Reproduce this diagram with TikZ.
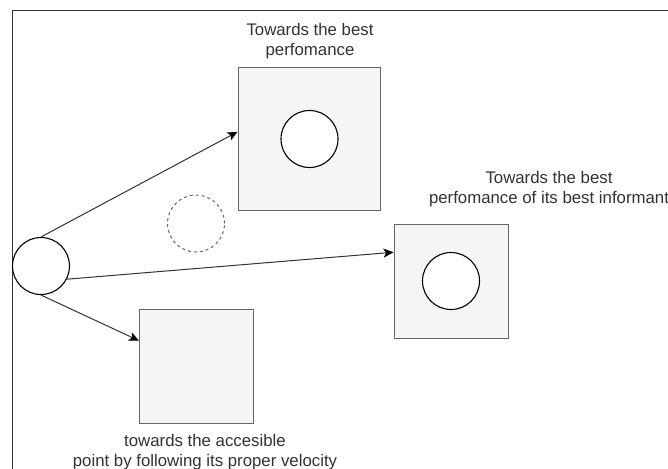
\documentclass[tikz,border=0pt]{standalone}
\usepackage{fontspec}
\setmainfont{Liberation Sans}
\usetikzlibrary{arrows.meta,calc}
\definecolor{txtgray}{HTML}{333333}
\definecolor{boxline}{HTML}{666666}
\definecolor{boxfill}{HTML}{F5F5F5}
\begin{document}
\begin{tikzpicture}[x=1pt,y=-1pt,
  frameline/.style={draw=txtgray,line width=1pt},
  cellbox/.style={draw=boxline,fill=boxfill,line width=1pt,inner sep=0pt,minimum size=#1},
  particle/.style={circle,draw=black,line width=1.1pt,fill=white,inner sep=0pt,minimum size=57pt},
  ghost/.style={circle,draw=boxline,line width=1pt,dash pattern=on 3pt off 3pt,inner sep=0pt,minimum size=57pt},
  move/.style={draw=txtgray,line width=1pt,-{Stealth[length=10pt,width=9pt,inset=2.5pt,color=black]}},
  caption/.style={text=txtgray,align=center,inner sep=0pt,font=\fontsize{16.8}{20}\selectfont}]
\useasboundingbox (0,0) rectangle (668,468);
\fill[white] (0,0) rectangle (668,468);

% outer frame (open to the right and bottom)
\draw[frameline] (12,480) -- (12,11) -- (680,11);

% boxes
\node[cellbox=142pt] (best) at (309,139) {};
\node[cellbox=114pt] (inform) at (451,281) {};
\node[cellbox=114pt] (vel) at (196.5,366) {};

% particles
\node[particle] (p) at (41,266) {};
\node[particle] (pbest) at (309.5,139) {};
\node[particle] (pinform) at (451,281) {};
\node[ghost] (pghost) at (196,223.5) {};

% captions
\node[caption] (tbest) at (310,41) {Towards the best\\perfomance};
\node[caption] (tinform) at (549,189.5) {Towards the best\\perfomance of its best informant};
\node[caption] (tvel) at (205,452) {towards the accesible\\point by following its proper velocity};

% movement arrows
\draw[move] (p.north) -- ($(best.north west)!0.45!(best.south west)$);
\draw[move] (p.-27) -- ($(inform.north west)!0.25!(inform.south west)$);
\draw[move] (p.south) -- ($(vel.north west)!0.28!(vel.south west)$);
\end{tikzpicture}
\end{document}
